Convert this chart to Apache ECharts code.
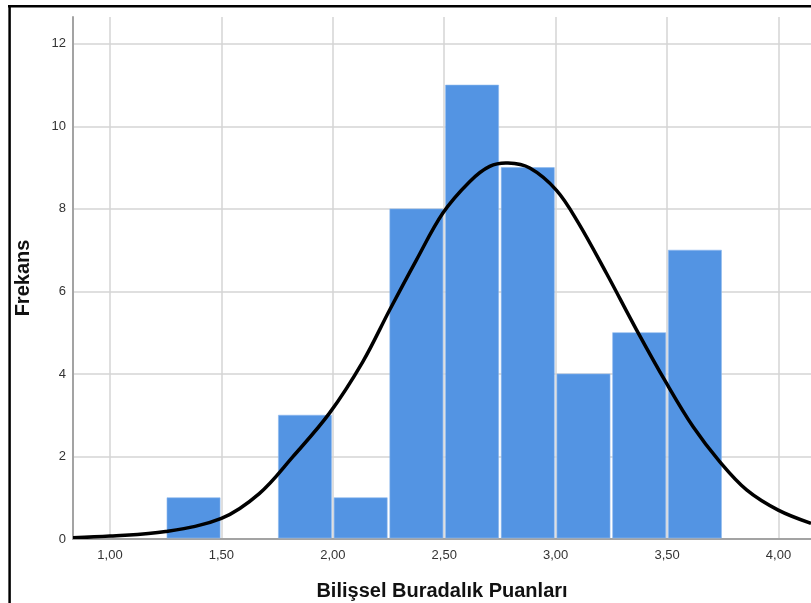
<!DOCTYPE html>
<html>
<head>
<meta charset="utf-8">
<script src="https://cdn.jsdelivr.net/npm/echarts@6/dist/echarts.min.js"></script>
<style>
html,body{margin:0;padding:0;background:#fff;}
#c{width:811px;height:603px;}
</style>
</head>
<body>
<div id="c"></div>
<script>
// Histogram bins (lower edge, upper edge) and frequencies
var binStart = [1.25, 1.75, 2.00, 2.25, 2.50, 2.75, 3.00, 3.25, 3.50];
var binEnd   = [1.50, 2.00, 2.25, 2.50, 2.75, 3.00, 3.25, 3.50, 3.75];
var counts   = [1, 3, 1, 8, 11, 9, 4, 5, 7];

// Normal curve points
var curveX = [0.834, 1.00, 1.25, 1.50, 1.67, 1.82, 1.985, 2.135, 2.255, 2.375, 2.494, 2.614, 2.704, 2.786, 2.884, 3.004, 3.10, 3.228, 3.363, 3.498, 3.617, 3.737, 3.857, 3.999, 4.146];
var curveY = [0.03, 0.07, 0.18, 0.50, 1.10, 1.99, 3.05, 4.30, 5.55, 6.76, 7.90, 8.66, 9.03, 9.11, 8.99, 8.45, 7.68, 6.44, 5.07, 3.77, 2.72, 1.87, 1.19, 0.70, 0.38];

// Tick labels
var xTicks = [1.0, 1.5, 2.0, 2.5, 3.0, 3.5, 4.0];
var yTicks = [0, 2, 4, 6, 8, 10, 12];

var xTitle = 'Bilişsel Buradalık Puanları';
var yTitle = 'Frekans';

var barData = binStart.map(function (s, i) { return [s, binEnd[i], counts[i]]; });
var lineData = curveX.map(function (x, i) { return [x, curveY[i]]; });

var FONT = '"Liberation Sans", Arial, sans-serif';
var chart = echarts.init(document.getElementById('c'), null, {renderer: 'canvas'});

chart.setOption({
  animation: false,
  backgroundColor: '#ffffff',
  grid: {left: 73, right: 0, top: 17, bottom: 64, containLabel: false, outerBoundsMode: 'none'},
  xAxis: {
    type: 'value',
    min: 0.834,
    max: 4.146,
    name: xTitle,
    nameLocation: 'middle',
    nameGap: 42,
    nameTextStyle: {fontFamily: FONT, fontSize: 20, fontWeight: 'bold', color: '#111'},
    axisLine: {show: true, onZero: false, lineStyle: {color: '#a3a3a3', width: 2}},
    axisTick: {show: false, customValues: xTicks},
    axisLabel: {
      customValues: xTicks,
      margin: 10,
      fontFamily: FONT, fontSize: 13, color: '#333',
      formatter: function (v) { return v.toFixed(2).replace('.', ','); }
    },
    splitLine: {show: true, lineStyle: {color: '#d4d4d4', width: 1.5}}
  },
  yAxis: {
    type: 'value',
    min: 0,
    max: 12.65,
    name: yTitle,
    nameLocation: 'middle',
    nameGap: 40,
    nameRotate: 90,
    nameTextStyle: {fontFamily: FONT, fontSize: 20, fontWeight: 'bold', color: '#111'},
    axisLine: {show: true, lineStyle: {color: '#a3a3a3', width: 2}},
    axisTick: {show: false, customValues: yTicks},
    axisLabel: {customValues: yTicks, margin: 7, fontFamily: FONT, fontSize: 13, color: '#333'},
    splitLine: {show: true, lineStyle: {color: '#d4d4d4', width: 1.5}}
  },
  series: [
    {
      type: 'custom',
      data: barData,
      encode: {x: [0, 1], y: 2},
      z: 2,
      renderItem: function (params, api) {
        var p0 = api.coord([api.value(0), api.value(2)]);
        var p1 = api.coord([api.value(1), 0]);
        return {
          type: 'rect',
          shape: {x: p0[0] + 1.3, y: p0[1], width: p1[0] - p0[0] - 2.6, height: p1[1] - p0[1] - 1},
          style: {fill: '#5394e3', stroke: '#8db8ee', lineWidth: 0.6}
        };
      }
    },
    {
      type: 'custom',
      data: lineData,
      encode: {x: 0, y: 1},
      z: 3,
      clip: true,
      renderItem: function (params, api) {
        if (params.dataIndex !== 0) return null;
        var pts = lineData.map(function (d) { return api.coord(d); });
        return {
          type: 'polyline',
          shape: {points: pts, smooth: 0.35},
          style: {stroke: '#000', lineWidth: 3.5, fill: null, lineJoin: 'round'}
        };
      }
    }
  ],
  graphic: [
    {type: 'line', shape: {x1: 8, y1: 6.2, x2: 811, y2: 6.2}, style: {stroke: '#000', lineWidth: 2.5}, z: 100},
    {type: 'line', shape: {x1: 9.6, y1: 5, x2: 9.6, y2: 603}, style: {stroke: '#000', lineWidth: 2.5}, z: 100}
  ]
});
</script>
</body>
</html>
